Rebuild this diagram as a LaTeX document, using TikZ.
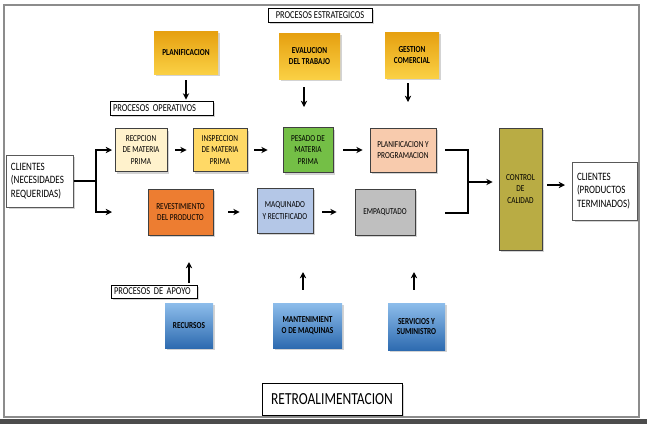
\documentclass[tikz,border=0pt]{standalone}
\usepackage{fontspec}
\setmainfont{Carlito}[FakeStretch=0.8]
\usepackage{xcolor}
\usepackage{tikz}
\usetikzlibrary{arrows.meta, shadows}

\newlength\pxu
\setlength\pxu{0.025cm}

\definecolor{recpc}{HTML}{FFF2CC}
\definecolor{inspc}{HTML}{FFD966}
\definecolor{pesc}{HTML}{74BF46}
\definecolor{progc}{HTML}{F8CBAD}
\definecolor{revc}{HTML}{ED7D31}
\definecolor{maqc}{HTML}{B4C7E7}
\definecolor{empc}{HTML}{BFBFBF}
\definecolor{ctrlc}{HTML}{B9AC44}
\definecolor{goldtop}{HTML}{E6A010}
\definecolor{goldbot}{HTML}{FAD044}
\definecolor{bluetop}{HTML}{8DBDEB}
\definecolor{bluebot}{HTML}{2E6BB0}
\definecolor{framec}{HTML}{8C8C8C}

\begin{document}
\begin{tikzpicture}[
  x=\pxu, y=-\pxu,
  shad/.style={drop shadow={opacity=0.35, shadow xshift=2\pxu, shadow yshift=-2\pxu}},
  tag/.style={rectangle, draw, fill=white, line width=0.6pt, inner sep=1pt,
              font=\fontsize{7.5}{9}\selectfont, shad},
  strat/.style={rectangle, top color=goldtop, bottom color=goldbot, inner sep=1pt,
                font=\fontsize{6.5}{7.5}\selectfont\bfseries, align=center, shad},
  apoyo/.style={rectangle, top color=bluetop, bottom color=bluebot, inner sep=1pt,
                font=\fontsize{6.5}{7.5}\selectfont\bfseries, align=center, shad},
  proc/.style={rectangle, draw=black!75, line width=0.5pt, inner sep=1pt,
               font=\fontsize{6.5}{8.3}\selectfont, align=center, shad},
  cliente/.style={rectangle, draw=black!65, fill=white, line width=0.6pt, inner sep=3pt,
                  font=\fontsize{8}{9.4}\selectfont, align=left, shad},
  line/.style={line width=1.3pt},
  arr/.style={-{Stealth[length=4.5pt, width=4.5pt]}, line width=1.3pt}
]
\useasboundingbox (0,0) rectangle (647,424);
\fill[black!70] (0,419) rectangle (647,424);
\draw[framec, line width=1.5\pxu] (4,5) rectangle (639,417);

% estrategicos
\node[tag, minimum width=104\pxu, minimum height=14\pxu] (estr) at (320,15) {PROCESOS ESTRATEGICOS};
\node[strat, minimum width=64\pxu, minimum height=43\pxu] (plan) at (186,52.5) {PLANIFICACION};
\node[strat, minimum width=61\pxu, minimum height=46\pxu] (eval) at (309.5,56) {EVALUCION\\DEL TRABAJO};
\node[strat, minimum width=54\pxu, minimum height=46\pxu] (gest) at (412,55) {GESTION\\COMERCIAL};

% operativos
\node[tag, minimum width=103\pxu, minimum height=14\pxu, text width=97\pxu, align=left] (oper) at (161.5,108) {PROCESOS OPERATIVOS};
\node[cliente, minimum width=66\pxu, minimum height=52\pxu, text width=58\pxu] (cli) at (40,181) {CLIENTES\\(NECESIDADES\\REQUERIDAS)};
\node[proc, fill=recpc, minimum width=52\pxu, minimum height=43\pxu] (recp) at (141,150) {RECPCION\\DE MATERIA\\PRIMA};
\node[proc, fill=inspc, minimum width=54\pxu, minimum height=43\pxu] (insp) at (220,150) {INSPECCION\\DE MATERIA\\PRIMA};
\node[proc, fill=pesc, minimum width=50\pxu, minimum height=45\pxu] (pes) at (308,150) {PESADO DE\\MATERIA\\PRIMA};
\node[proc, fill=progc, minimum width=66\pxu, minimum height=44\pxu] (prog) at (403,150) {PLANIFICACION Y\\PROGRAMACION};
\node[proc, fill=revc, minimum width=65\pxu, minimum height=46\pxu] (rev) at (180.5,212) {REVESTIMIENTO\\DEL PRODUCTO};
\node[proc, fill=maqc, minimum width=56\pxu, minimum height=45\pxu] (maq) at (285,210.5) {MAQUINADO\\Y RECTIFICADO};
\node[proc, fill=empc, minimum width=60\pxu, minimum height=46\pxu] (emp) at (385,212) {EMPAQUTADO};
\node[proc, fill=ctrlc, minimum width=43\pxu, minimum height=122\pxu] (ctrl) at (520.5,189) {CONTROL\\DE\\CALIDAD};
\node[cliente, minimum width=64\pxu, minimum height=58\pxu, text width=56\pxu] (clo) at (605,191) {CLIENTES\\(PRODUCTOS\\TERMINADOS)};

% apoyo
\node[tag, minimum width=86\pxu, minimum height=13\pxu, text width=80\pxu, align=left] (apo) at (154,291.5) {PROCESOS DE APOYO};
\node[apoyo, minimum width=48\pxu, minimum height=45\pxu] (recu) at (189,325.5) {RECURSOS};
\node[apoyo, minimum width=69\pxu, minimum height=45\pxu] (mant) at (307.5,325.5) {MANTENIMIENT\\O DE MAQUINAS};
\node[apoyo, minimum width=57\pxu, minimum height=47\pxu] (serv) at (416.5,326.5) {SERVICIOS Y\\SUMINISTRO};

\node[tag, minimum width=140\pxu, minimum height=32\pxu, font=\fontsize{12}{14}\selectfont] (retro) at (332,399) {RETROALIMENTACION};

% free ends
\coordinate (split) at (96,181);
\coordinate (opin) at (112,150);
\coordinate (apin) at (112,212);
\coordinate (evin) at (304,107);
\coordinate (gein) at (408,102);
\coordinate (jtop) at (445,150);
\coordinate (jbot) at (445,213);
\coordinate (join) at (468,182);
\coordinate (outc) at (565,185);
\coordinate (revin) at (189,262);
\coordinate (maqin) at (303,272);
\coordinate (serin) at (414,272);

\draw[arr, shorten <=6\pxu, shorten >=1\pxu] (plan.south) -- (plan.south |- oper.north);
\draw[arr, shorten <=8\pxu] (eval.south -| evin) -- (evin);
\draw[arr, shorten <=5\pxu] (gest.south -| gein) -- (gein);

\draw[line] (cli.east) -- (split);
\draw[arr] (split) |- (opin);
\draw[arr] (split) |- (apin);
\draw[arr, shorten <=8\pxu, shorten >=6\pxu] (recp) -- (insp);
\draw[arr, shorten <=7\pxu, shorten >=15\pxu] (insp) -- (pes);
\draw[arr, shorten <=10\pxu, shorten >=7\pxu] (pes) -- (prog);
\draw[arr, shorten <=15\pxu, shorten >=17\pxu] (rev) -- (rev -| maq.west);
\draw[arr, shorten <=9\pxu, shorten >=18\pxu] (maq.east |- emp) -- (emp);
\draw[line] (jtop) -| (join) |- (jbot);
\draw[arr, shorten >=6\pxu] (join) -- (join -| ctrl.west);
\draw[arr, shorten <=5\pxu] (ctrl.east |- outc) -- (outc);

\draw[arr, shorten <=2\pxu] (revin |- apo.north) -- (revin);
\draw[arr, shorten <=13\pxu] (mant.north -| maqin) -- (maqin);
\draw[arr, shorten <=13\pxu] (serv.north -| serin) -- (serin);
\end{tikzpicture}
\end{document}
